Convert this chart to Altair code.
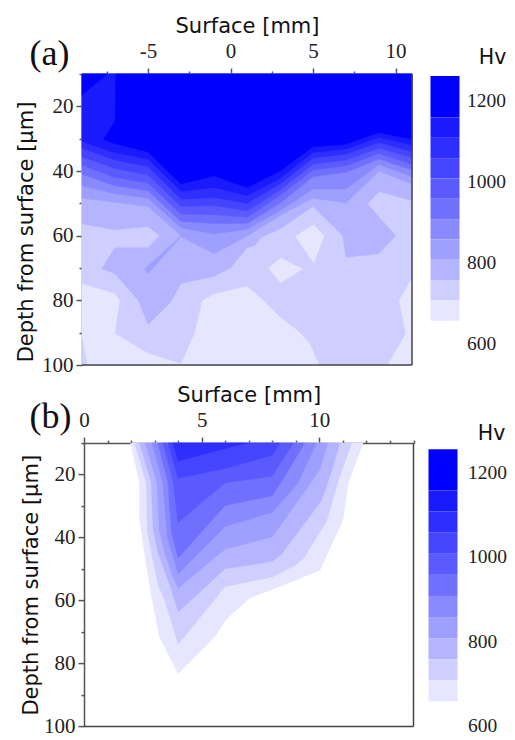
import altair as alt
import pandas as pd

SERIF = "Liberation Serif"
SANS = "DejaVu Sans"
COLORS = ["#0000ff", "#1a1aff", "#2e2eff", "#4545ff", "#5a5aff", "#7070ff",
          "#8a8aff", "#9f9fff", "#b5b5ff", "#cfcfff", "#e6e6ff"]
EDGES = [1157, 1107, 1057, 1007, 957, 907, 857, 807, 757, 707, 657]

# ---- panel (a): contour boundaries (depth at each surface position)
A_X = [-9, -7, -5, -3, -1, 1, 3, 5, 7, 9, 11]
A_L2 = [30.9, 34.3, 36.3, 46.3, 45.1, 47.6, 42.3, 34.3, 33.2, 29.6, 31.9]
A_L3 = [33.0, 36.6, 38.6, 48.7, 48.2, 50.0, 44.0, 36.0, 34.8, 31.2, 34.0]
A_L4 = [35.6, 39.2, 41.2, 51.0, 50.7, 52.3, 45.9, 37.9, 36.6, 32.9, 35.8]
A_L5 = [38.2, 42.0, 43.7, 53.3, 53.5, 54.3, 47.6, 39.7, 38.4, 34.6, 37.9]
A_L6 = [41.0, 44.6, 46.1, 55.6, 56.2, 56.2, 50.0, 41.8, 40.4, 36.3, 39.7]
A_L7 = [44.6, 47.1, 48.4, 57.6, 59.5, 58.0, 52.3, 45.6, 45.6, 38.0, 41.8]
A_RECT = [(-9, 10), (11, 10), (11, 100), (-9, 100)]
A_TOP_R = [(11, 10), (-9, 10)]
A_L1_POLY = [(-6.95, 10), (11, 10), (11, 30.2), (9, 28.1), (7, 31.7), (5, 32.5), (3, 40),
             (1, 45.1), (-1, 41.5), (-3, 44), (-5, 34.1), (-7, 31.6), (-7.7, 30.2), (-7, 24.5)]
A_CORNER = [(-9, 10), (-7.47, 10), (-9, 16.5)]
A_L8_POLY = [(-9, 10), (11, 10), (11, 44), (9, 40.1), (7, 49.9), (5, 48.4), (3, 53.8), (1, 60.2),
             (-1, 65.6), (-3, 60.3), (-5, 71.8), (-5.2, 70.3), (-3, 60), (-5, 51), (-7, 49.7), (-9, 48.4)]
A_L9_POLY = [(-9, 10), (11, 10), (11, 49.2), (9, 46.4), (8.3, 50.1), (10, 60), (9, 65.6), (7, 66.7),
             (6.8, 60), (5, 51), (3, 57.9), (1.87, 60.5), (1.46, 63.1), (1, 63.7), (0, 70), (-1, 72.6),
             (-3, 74.8), (-3.6, 80.4), (-5, 87.5), (-5.6, 80), (-7, 71.8), (-7.8, 70.2), (-7, 63.7),
             (-5, 63.7), (-4.3, 60), (-5, 57.2), (-7, 58.2), (-9, 56.4)]
A_L10_POLY = [(-9, 10), (11, 10), (11, 73), (10.2, 80), (10.6, 90.3), (9.5, 100), (5.4, 100), (4.8, 93.3),
              (4.1, 89.4), (3.1, 85.6), (2.2, 81), (1.46, 77.5), (1, 75.6), (-1, 78), (-1.7, 80),
              (-2.2, 90.3), (-3, 99.5), (-5, 96.3), (-7, 90.2), (-6.7, 80), (-7, 77.9), (-9, 74.8)]
A_SLIVER = [(-9, 91.4), (-8.7, 100), (-9, 100)]
A_ISLE1 = [(3.93, 60.2), (5.05, 56.6), (5.67, 60), (5.05, 68.5)]
A_ISLE2 = [(2.31, 70.1), (3.04, 66.9), (4.36, 70.3), (3.04, 74.6)]

# ---- panel (b): closed contour outlines, outermost first
B_A = [(1.98, 10), (2.36, 22.6), (2.36, 34), (2.57, 44.8), (2.85, 58), (3.21, 71.6), (4, 83.2), (5.55, 71.6),
       (6.05, 65.9), (7.04, 59.2), (8, 56.5), (10.02, 50.4), (11, 34.4), (11.23, 22.6), (11.86, 10)]
B_B = [(2.15, 10), (2.65, 22.6), (2.69, 38), (2.86, 44.8), (3.15, 55), (3.43, 60), (4, 73.9), (6, 55.6),
       (8, 52.5), (8.96, 48.9), (9.31, 46.8), (10.3, 35), (10.8, 22.1), (11.37, 10)]
B_C = [(2.36, 10), (2.86, 22.6), (2.93, 37), (3.14, 44.8), (3.64, 55), (4, 63.7), (6, 49.9), (8, 47.6),
       (8.39, 45.3), (10.09, 28.3), (10.5, 19.5), (10.87, 10)]
B_D = [(2.6, 10), (3.1, 22.6), (3.2, 38), (3.43, 44.8), (3.75, 52), (4, 56.1), (6, 43.7), (8, 39.8),
       (9.45, 24.6), (10.02, 18.4), (10.37, 10)]
B_E = [(2.89, 10), (3.35, 22.6), (3.54, 40), (4, 51.5), (6, 36.5), (8, 32), (9.1, 22.6), (9.88, 10)]
B_F = [(3.14, 10), (3.57, 22.6), (3.71, 38), (4, 46.5), (6, 29.8), (8, 26.7), (8.53, 20.5), (9.38, 10)]
B_G = [(3.35, 10), (3.78, 22), (4, 35.2), (6, 22.6), (8, 20.5), (8.9, 10)]
B_H = [(3.57, 10), (4, 21.2), (6, 18), (8, 13.8), (8.32, 10)]
B_I = [(3.78, 10), (4, 15.7), (6, 11.7), (6.9, 10)]

HV_TICKS = [600, 800, 1000, 1200]


def boundary(depths):
    return A_TOP_R + list(zip(A_X, depths))


a_polys = [
    (A_RECT, 10), (A_L10_POLY, 9), (A_SLIVER, 9), (A_ISLE1, 10), (A_ISLE2, 10),
    (A_L9_POLY, 8), (A_L8_POLY, 7),
    (boundary(A_L7), 6), (boundary(A_L6), 5), (boundary(A_L5), 4),
    (boundary(A_L4), 3), (boundary(A_L3), 2), (boundary(A_L2), 1),
    (A_L1_POLY, 0), (A_CORNER, 0),
]
b_polys = [(B_A, 10), (B_B, 9), (B_C, 8), (B_D, 7), (B_E, 6), (B_F, 5), (B_G, 4), (B_H, 3), (B_I, 2)]


def table(polys):
    rows = []
    for pid, (pts, c) in enumerate(polys):
        for i, (x, y) in enumerate(list(pts) + [pts[0]]):
            rows.append({"poly": f"p{pid:02d}", "i": i, "x": x, "y": y, "c": COLORS[c]})
    return pd.DataFrame(rows)


def bar_table(top_edge):
    edges = [top_edge] + EDGES
    return pd.DataFrame({"x0": [0] * 11, "x1": [1] * 11, "hi": edges[:-1], "lo": edges[1:], "c": COLORS})


def num_axis(**kw):
    return alt.Axis(labelFont=SERIF, labelFontSize=21, labelColor="#222", titleFont=SANS,
                    titleFontSize=21, titleFontWeight="normal", titleColor="#111",
                    domainColor="#555", tickColor="#555", domainWidth=1.5, tickWidth=1.5,
                    grid=False, labelFlush=False, labelOverlap=False, **kw)


def panel(polys, xdom, xvals, xmajor, hvdom, bar_top, bar_left, bar_right, x0, w, h, tag, tag_xy, hv_xy,
          top_label_pad, y_title_pad, y_title_dy, hv_pad):
    full = x0 + w
    base = alt.Chart(table(polys)).mark_line(strokeWidth=0.4).encode(
        x=alt.X("x:Q", scale=alt.Scale(domain=xdom, range=[x0, full], nice=False, zero=False),
                axis=num_axis(orient="top", title="Surface [mm]", values=xvals,
                              labelExpr=f"datum.value % {xmajor} == 0 ? '' + datum.value : ''",
                              tickSize={"condition": {"test": f"datum.value % {xmajor} == 0", "value": 6}, "value": 3},
                              labelPadding=top_label_pad, titlePadding=4)),
        y=alt.Y("y:Q", scale=alt.Scale(domain=[10, 100], reverse=True, nice=False, zero=False),
                axis=num_axis(title="Depth from surface [\u03bcm]", values=list(range(10, 101, 10)),
                              labelExpr="datum.value % 20 == 0 ? datum.label : ''",
                              tickSize={"condition": {"test": "datum.value % 20 == 0", "value": 6}, "value": 3},
                              labelPadding=3, titlePadding=y_title_pad, offset=-x0,
                              titleY=h / 2 + y_title_dy)),
        fill=alt.Fill("c:N", scale=None),
        color=alt.Color("c:N", scale=None),
        detail="poly:N",
        order="i:Q",
    )
    bar = alt.Chart(bar_table(bar_top)).mark_rect().encode(
        x=alt.X("x0:Q", scale=alt.Scale(domain=[0, 1], range=[bar_left, bar_right]), axis=None),
        x2="x1:Q",
        y=alt.Y("lo:Q", scale=alt.Scale(domain=hvdom, nice=False, zero=False),
                axis=alt.Axis(orient="right", values=HV_TICKS, title=None, domain=False, ticks=False, grid=False,
                              offset=bar_right - full, labelPadding=hv_pad, labelFont=SERIF, labelFontSize=19.5,
                              labelColor="#222", labelOverlap=False, format="d")),
        y2="hi:Q",
        color=alt.Color("c:N", scale=None),
    )
    one = pd.DataFrame({"t": [0]})
    right_edge = alt.Chart(one).mark_rule(color="#444", strokeWidth=1.5).encode(
        x=alt.value(full), y=alt.value(0), y2=alt.value(h))
    bottom_edge = alt.Chart(one).mark_rule(color="#444", strokeWidth=1.5).encode(
        x=alt.value(x0), x2=alt.value(full), y=alt.value(h))
    hv = alt.Chart(pd.DataFrame({"t": ["Hv"]})).mark_text(font=SANS, fontSize=20.5, color="#111", align="center").encode(
        text="t:N", x=alt.value(hv_xy[0]), y=alt.value(hv_xy[1]))
    lab = alt.Chart(pd.DataFrame({"t": [tag]})).mark_text(font=SERIF, fontSize=36, color="#111", align="left").encode(
        text="t:N", x=alt.value(tag_xy[0]), y=alt.value(tag_xy[1]))
    return alt.layer(base, bar, right_edge, bottom_edge, hv, lab).resolve_scale(
        x="independent", y="independent", color="independent", fill="independent"
    ).properties(width=full, height=h, view=alt.ViewConfig(stroke=None))


top = panel(a_polys, [-9, 11], [-7.5, -5, -2.5, 0, 2.5, 5, 7.5, 10], 5, [548, 1264], 1259, 348.5, 377.5, 0, 330, 291,
            "(a)", (-52.5, -20.5), (410.5, -15.7), 7, 5, 12, 7)
bottom = panel(b_polys, [0, 14], list(range(0, 15)), 5, [597.7, 1269.5], 1255, 346.5, 375.5, 2, 329.5, 283.3,
               "(b)", (-52.5, -26.1), (409.5, -8.7), 7, 2, 0, 10)

chart = alt.vconcat(top, bottom, spacing=9.1).properties(
    padding={"left": 7, "top": 7, "right": 0, "bottom": -3}, background="white"
)

chart.save("out.html", embed_options={"renderer": "svg", "actions": False})
